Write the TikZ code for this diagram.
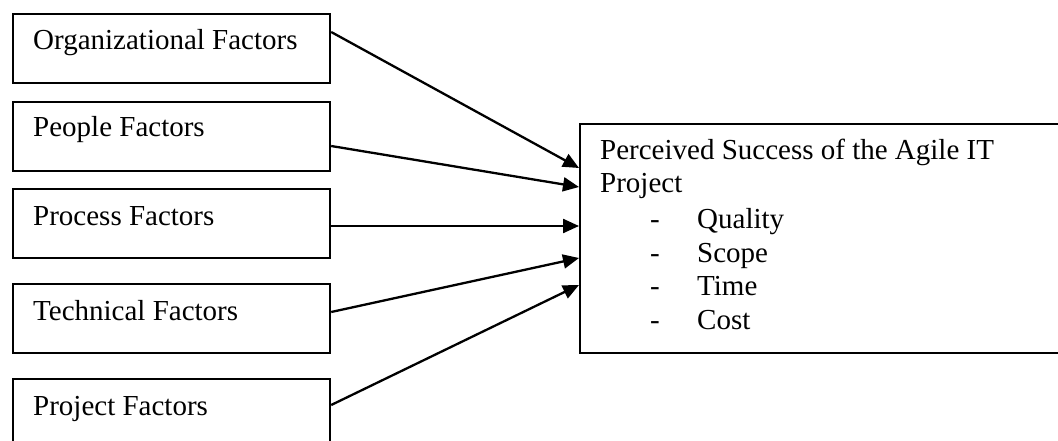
\documentclass[tikz,border=0pt]{standalone}
\usepackage{fontspec}
\setmainfont{Liberation Serif}
\usetikzlibrary{arrows.meta}
\begin{document}
\begin{tikzpicture}[x=1pt,y=-1pt,
  factorbox/.style={draw=black,line width=2.2pt,minimum width=317pt,minimum height=69pt,inner sep=0pt,anchor=north west},
  label text/.style={anchor=base west,inner sep=0pt,font=\fontsize{29}{33}\selectfont},
  link/.style={line width=2.3pt,-{Triangle[length=16pt,width=14pt]}}]
  \useasboundingbox (0,0) rectangle (1058,441);
  \clip (0,0) rectangle (1058,441);
  \fill[white] (0,0) rectangle (1058,441);

  % factor boxes
  \node[factorbox] (b1) at (12,13) {};
  \node[factorbox] (b2) at (12,101) {};
  \node[factorbox] (b3) at (12,188) {};
  \node[factorbox] (b4) at (12,283) {};
  \node[factorbox] (b5) at (12,378) {};

  \node[label text] (t1) at (33,50) {Organizational Factors};
  \node[label text] (t2) at (33,137) {People Factors};
  \node[label text] (t3) at (33,225) {Process Factors};
  \node[label text] (t4) at (33,320) {Technical Factors};
  \node[label text] (t5) at (33,415) {Project Factors};

  % outcome box
  \node[draw=black,line width=2.2pt,minimum width=500pt,minimum height=229pt,inner sep=0pt,anchor=north west] (res) at (579,123) {};
  \node[label text] (r1) at (600,160) {Perceived Success of the Agile IT};
  \node[label text] (r2) at (600,193) {Project};
  \node[label text] (d1) at (650,228) {-};
  \node[label text] (d2) at (650,262) {-};
  \node[label text] (d3) at (650,295) {-};
  \node[label text] (d4) at (650,329) {-};
  \node[label text] (i1) at (697,228) {Quality};
  \node[label text] (i2) at (697,262) {Scope};
  \node[label text] (i3) at (697,295) {Time};
  \node[label text] (i4) at (697,329) {Cost};

  % influence arrows
  \draw[link] ([yshift=-19pt]b1.north east) -- ([yshift=-45pt]res.north west);
  \draw[link] ([yshift=-45pt]b2.north east) -- ([yshift=-64pt]res.north west);
  \draw[link] ([yshift=-38pt]b3.north east) -- ([yshift=-103pt]res.north west);
  \draw[link] ([yshift=-29pt]b4.north east) -- ([yshift=-135pt]res.north west);
  \draw[link] ([yshift=-27pt]b5.north east) -- ([yshift=-162pt]res.north west);
\end{tikzpicture}
\end{document}
